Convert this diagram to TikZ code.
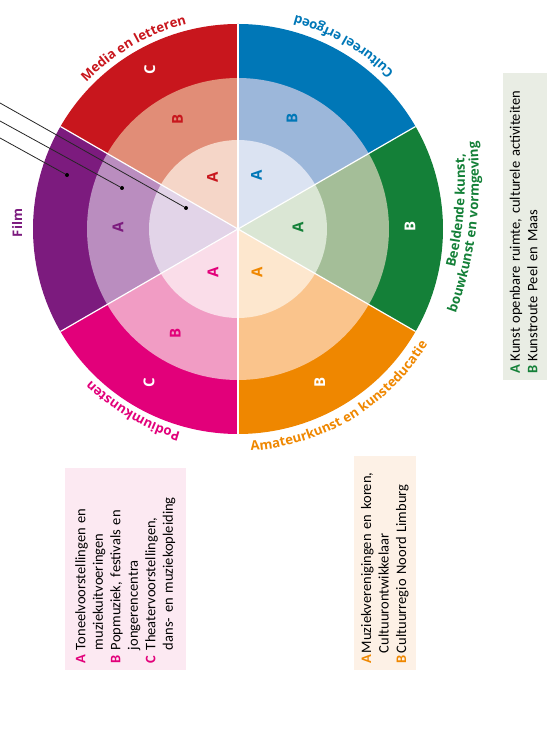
\documentclass[tikz,border=0pt]{standalone}
\usepackage{fontspec}
\setmainfont{Carlito}
\newfontfamily\wheelfont{Open Sans}
\usepackage{tikz}
\usetikzlibrary{decorations.text}

\definecolor{medC}{RGB}{200,22,29}
\definecolor{medB}{RGB}{225,141,119}
\definecolor{medA}{RGB}{245,214,200}
\definecolor{culC}{RGB}{0,119,183}
\definecolor{culB}{RGB}{156,183,218}
\definecolor{culA}{RGB}{219,227,242}
\definecolor{bkC}{RGB}{20,128,56}
\definecolor{bkB}{RGB}{164,190,152}
\definecolor{bkA}{RGB}{218,230,212}
\definecolor{amC}{RGB}{239,135,0}
\definecolor{amB}{RGB}{250,196,140}
\definecolor{amA}{RGB}{253,231,206}
\definecolor{poC}{RGB}{226,0,122}
\definecolor{poB}{RGB}{241,156,196}
\definecolor{poA}{RGB}{250,221,233}
\definecolor{fiC}{RGB}{124,27,126}
\definecolor{fiB}{RGB}{186,141,191}
\definecolor{fiA}{RGB}{226,212,232}
\definecolor{poBox}{RGB}{252,233,242}
\definecolor{amBox}{RGB}{253,241,230}
\definecolor{bkBox}{RGB}{233,237,228}

\newcommand{\wlbl}{\wheelfont\bfseries\fontsize{13.2}{15}\selectfont}
\newcommand{\wlet}{\wheelfont\bfseries\fontsize{15}{17}\selectfont}

\begin{document}
\begin{tikzpicture}[x=1pt,y=1pt,
	letter/.style={rotate=90,font=\wlet,inner sep=0pt},
	legend/.style={rotate=90,anchor=north west,align=left,inner xsep=6pt,inner ysep=0pt,font=\fontsize{14.5}{17.5}\selectfont},
	dot/.style={circle,fill=black,inner sep=0pt,minimum size=4pt},
	wheeltext/.style 2 args={decorate,decoration={text along path,text align=center,text color=#1,text={|\wlbl|#2}}}]
	\useasboundingbox (-238,-501) rectangle (312,229);
	
	\coordinate (m) at (0,0);
	
	% ringen per sector: buiten, midden, binnen
	\foreach \a/\ca/\cb/\cc in {90/medA/medB/medC,30/culA/culB/culC,-30/bkA/bkB/bkC,-90/amA/amB/amC,-150/poA/poB/poC,150/fiA/fiB/fiC}{
		\pgfmathsetmacro{\b}{\a+60}
		\fill[\cc] (m) -- (\a:205) arc[start angle=\a,end angle=\b,radius=205] -- cycle;
		\fill[\cb] (m) -- (\a:151) arc[start angle=\a,end angle=\b,radius=151] -- cycle;
		\fill[\ca] (m) -- (\a:89) arc[start angle=\a,end angle=\b,radius=89] -- cycle;
	}
	\foreach \a in {30,90,...,330}{
		\draw[white,line width=1.2pt] (m) -- (\a:205);
	}
	
	% letters in de ringen
	\foreach \p/\t/\c [count=\i] in {(116:58)/A/medC,(119:125)/B/medC,(119:182)/C/white,
		(71:57)/A/culC,(64:123)/B/culC,
		(2:60)/A/bkC,(1:172)/B/white,
		(-66:47)/A/amC,(-62:174)/B/white,
		(-120:50)/A/poC,(-121:122)/B/poC,(-120:178)/C/white,
		(179:120)/A/fiC}{
		\node[letter,text=\c] (let\i) at \p {\t};
	}
	
	% namen langs de rand
	\path[wheeltext={medC}{Media en letteren}] (150:211) arc[start angle=150,end angle=90,radius=211];
	\path[wheeltext={culC}{Cultureel erfgoed}] (30:221) arc[start angle=30,end angle=90,radius=221];
	\path[wheeltext={poC}{Podiumkunsten}] (-90:211) arc[start angle=-90,end angle=-150,radius=211];
	\path[wheeltext={amC}{Amateurkunst en kunsteducatie}] (-90:222) arc[start angle=-90,end angle=-28,radius=222];
	\begin{scope}[shift={(-152,48.4)}]
		\path[wheeltext={bkC}{Beeldende kunst,}] (-24:379) arc[start angle=-24,end angle=14.7,radius=379];
		\path[wheeltext={bkC}{bouwkunst en vormgeving}] (-30:393) arc[start angle=-30,end angle=16,radius=393];
	\end{scope}
	\node[rotate=90,font=\wlbl,text=fiC] (film) at (-221,6) {Film};
	
	% lijnen naar de stippen
	\foreach \i/\sy/\d in {1/126/{(-52,21)},2/108/{(-116,41)},3/91/{(-171,54)}}{
		\coordinate (s\i) at (-238,\sy);
		\node[dot] (d\i) at \d {};
		\draw[black!85,line width=0.8pt] (s\i) -- (d\i);
	}
	
	% legenda's
	\node[legend,fill=poBox,minimum width=202pt,minimum height=121pt,text width=190pt] (lgPo) at (-173,-441) {%
		\begin{tabular}{@{}l@{\hspace{5pt}}l@{}}
			\textcolor{poC}{\textbf{A}} & Toneelvoorstellingen en\\
			& muziekuitvoeringen\\
			\textcolor{poC}{\textbf{B}} & Popmuziek, festivals en\\
			& jongerencentra\\
			\textcolor{poC}{\textbf{C}} & Theatervoorstellingen,\\
			& dans- en muziekopleiding
	\end{tabular}};
	\node[legend,fill=amBox,minimum width=214pt,minimum height=62pt,text width=202pt] (lgAm) at (116,-441) {%
		\begin{tabular}{@{}l@{\hspace{2pt}}l@{}}
			\textcolor{amC}{\textbf{A}} & Muziekverenigingen en koren,\\
			& Cultuurontwikkelaar\\
			\textcolor{amC}{\textbf{B}} & Cultuurregio Noord Limburg
	\end{tabular}};
	\node[legend,fill=bkBox,minimum width=307pt,minimum height=44pt,text width=295pt] (lgBk) at (265,-151) {%
		\begin{tabular}{@{}l@{\hspace{4pt}}l@{}}
			\textcolor{bkC}{\textbf{A}} & Kunst openbare ruimte, culturele activiteiten\\
			\textcolor{bkC}{\textbf{B}} & Kunstroute Peel en Maas
	\end{tabular}};
\end{tikzpicture}
\end{document}
